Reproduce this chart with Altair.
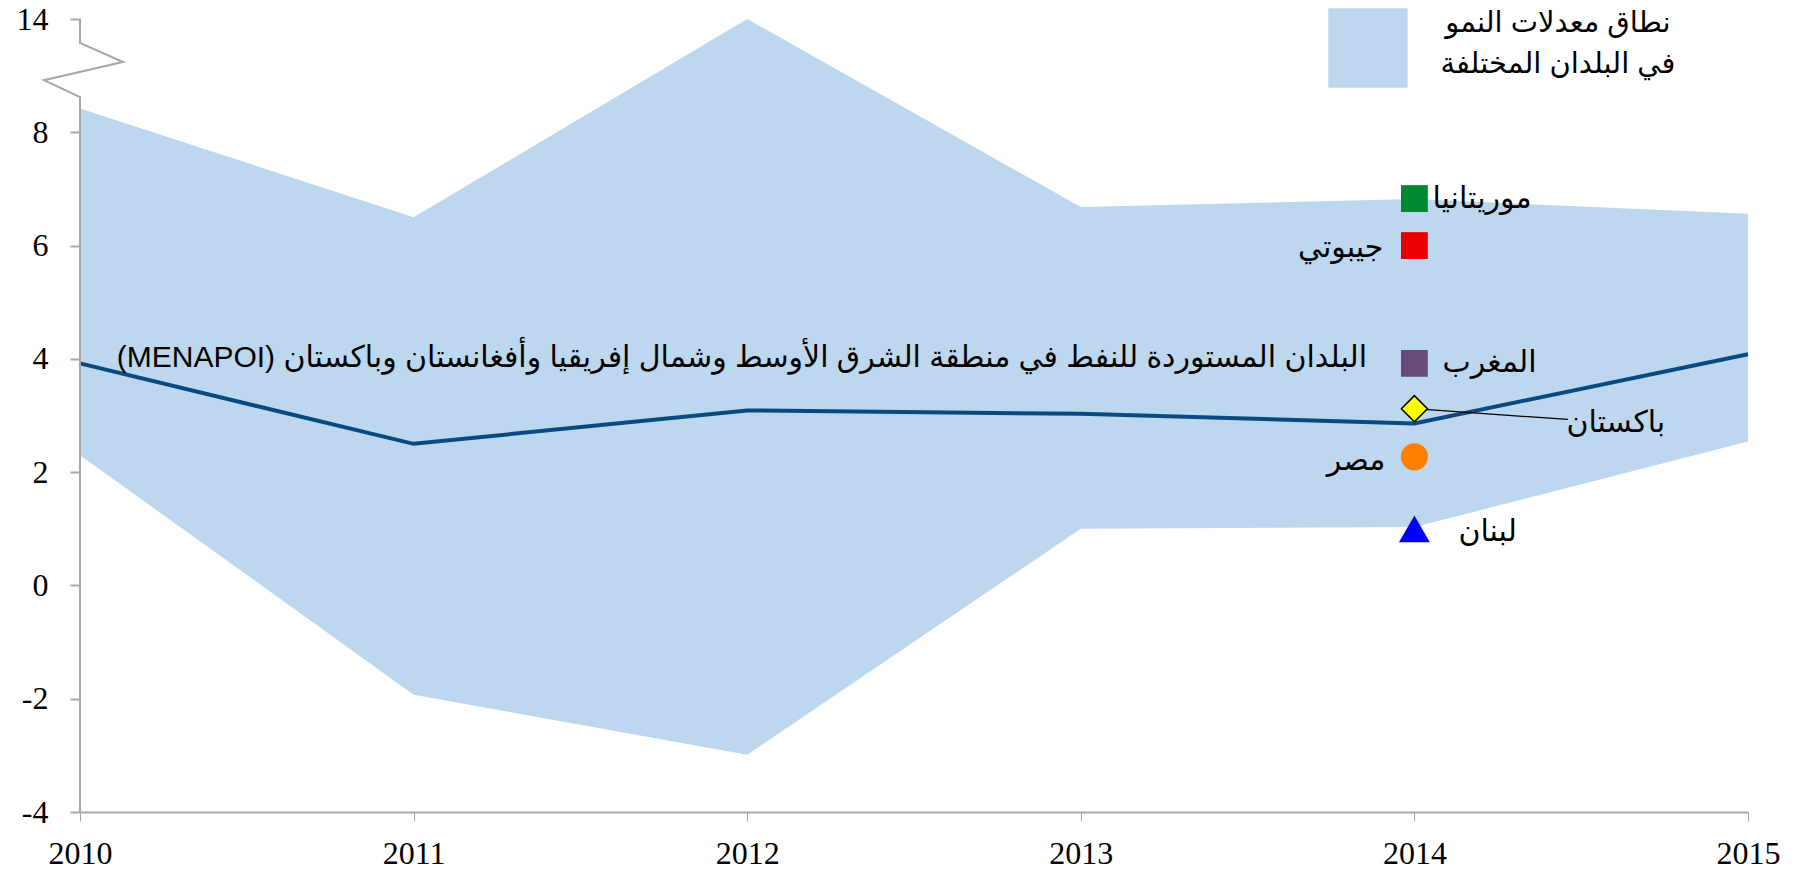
import altair as alt
import pandas as pd

# ---------------- data ----------------
years = [2010, 2011, 2012, 2013, 2014, 2015]
range_low = [2.30, -1.93, -2.99, 1.00, 1.03, 2.54]
range_high = [8.42, 6.50, 14.0, 6.68, 6.82, 6.56]
menapoi = [3.92, 2.50, 3.09, 3.03, 2.86, 4.08]

countries = ["موريتانيا", "جيبوتي", "المغرب", "باكستان", "مصر", "لبنان"]
country_values = [6.83, 6.00, 3.92, 3.12, 2.27, 1.00]
country_year = 2014

y_tick_labels = ["-4", "-2", "0", "2", "4", "6", "8", "14"]
legend_lines = ["نطاق معدلات النمو", "في البلدان المختلفة"]
series_label = "البلدان المستوردة للنفط في منطقة الشرق الأوسط وشمال إفريقيا وأفغانستان وباكستان"
series_abbr = "(MENAPOI)"

# ---------------- styles ----------------
BREAK_SHIFT = 4  # values above the axis break (14) are drawn 4 units lower
shape_of = {"موريتانيا": "square", "جيبوتي": "square", "المغرب": "square",
            "باكستان": "diamond", "مصر": "circle", "لبنان": "triangle-up"}
color_of = {"موريتانيا": "#00892F", "جيبوتي": "#E60000", "المغرب": "#684B7B",
            "باكستان": "#FFFF00", "مصر": "#FF8000", "لبنان": "#0000FF"}
size_of = {"square": 720, "diamond": 680, "circle": 740, "triangle-up": 950}
# label offsets (pixels) and alignment
label_style = {"موريتانيا": (18, 0, "left"), "جيبوتي": (-31, 2, "right"),
               "المغرب": (28, 0, "left"), "باكستان": (152, 14, "left"),
               "مصر": (-29, 4, "right"), "لبنان": (44, 3, "left")}

AR_FONT = "Liberation Sans, DejaVu Sans"
NUM_FONT = "Liberation Serif"
GRAY = "#A6A6A6"
LEGEND_TXT = "|".join(legend_lines)

band = pd.DataFrame({"year": years, "low": range_low, "high": range_high,
                     "series": [LEGEND_TXT] * len(years)})
line_df = pd.DataFrame({"year": years, "value": menapoi})
pts = pd.DataFrame({"country": countries, "value": country_values,
                    "year": [country_year] * len(countries)})
pts["shape"] = pts["country"].map(shape_of)
pts["fill"] = pts["country"].map(color_of)
pts["size"] = pts["shape"].map(size_of)
pts["stroke"] = ["black" if s == "diamond" else c for s, c in zip(pts["shape"], pts["fill"])]
pts["sw"] = [1.6 if s == "diamond" else 0 for s in pts["shape"]]

x_scale = alt.Scale(domain=[2010, 2015], nice=False, zero=False)
y_scale = alt.Scale(domain=[-4, 10], nice=False, zero=False)

tick_vals = [-4, -2, 0, 2, 4, 6, 8, 10]
label_map = "{" + ",".join(f"'{v}':'{t}'" for v, t in zip(tick_vals, y_tick_labels)) + "}"

x_axis = alt.Axis(values=years, format="d", labelFont=NUM_FONT, labelFontSize=32,
                  labelColor="black", domainColor=GRAY, domainWidth=2,
                  tickColor=GRAY, tickSize=9, tickWidth=1, labelPadding=17,
                  grid=False, title=None, labelFlush=False)
y_axis = alt.Axis(values=tick_vals, labelExpr=label_map + "[toString(datum.value)]",
                  labelFont=NUM_FONT, labelFontSize=32, labelColor="black",
                  domain=False, tickColor=GRAY, tickSize=10, tickWidth=2,
                  labelPadding=22, grid=False, title=None)

area = alt.Chart(band).transform_calculate(
    top=f"datum.high > 10 ? datum.high - {BREAK_SHIFT} : datum.high"
).mark_area(opacity=1).encode(
    x=alt.X("year:Q", scale=x_scale, axis=x_axis),
    y=alt.Y("top:Q", scale=y_scale, axis=y_axis),
    y2="low:Q",
    fill=alt.Fill("series:N", scale=alt.Scale(range=["#BDD7EE"]),
                  legend=alt.Legend(orient="none", legendX=1248, legendY=-11,
                                    title=None, symbolType="square", symbolSize=6300,
                                    symbolStrokeWidth=0, symbolOpacity=1,
                                    labelExpr="''", labelFontSize=1, labelOffset=0,
                                    padding=0)),
)

# legend label drawn as a two-line text next to the legend swatch
legend_text = alt.Chart(pd.DataFrame({"t": [LEGEND_TXT]})).mark_text(
    align="center", baseline="middle", font=AR_FONT, fontSize=29, lineHeight=41,
    lineBreak="|", color="black"
).encode(x=alt.X(datum=2014.43, scale=x_scale), y=alt.Y(datum=9.93, scale=y_scale),
         text="t:N")

line = alt.Chart(line_df).mark_line(color="#0B4A80", strokeWidth=4).encode(
    x=alt.X("year:Q", scale=x_scale), y=alt.Y("value:Q", scale=y_scale))

# y-axis domain with break symbol
axis_x = [2010, 2010, 2010.129, 2009.892, 2010, 2010]
axis_y = [10, 9.58, 9.24, 8.92, 8.62, -4]
axis_df = pd.DataFrame({"x": axis_x, "y": axis_y, "o": list(range(len(axis_x)))})
axis_line = alt.Chart(axis_df).mark_line(color=GRAY, strokeWidth=2).encode(
    x=alt.X("x:Q", scale=x_scale), y=alt.Y("y:Q", scale=y_scale), order="o:Q")

# leader line for Pakistan
pak = pts[pts["shape"] == "diamond"]
leader = alt.Chart(pak).mark_rule(color="black", strokeWidth=1.2).encode(
    x=alt.X("year:Q", scale=x_scale), y=alt.Y("value:Q", scale=y_scale),
    x2=alt.X2(datum=2014.46), y2=alt.Y2(datum=2.93))

points = alt.Chart(pts).mark_point(filled=True, opacity=1).encode(
    x=alt.X("year:Q", scale=x_scale), y=alt.Y("value:Q", scale=y_scale),
    shape=alt.Shape("shape:N", scale=None),
    fill=alt.Fill("fill:N", scale=None),
    stroke=alt.Stroke("stroke:N", scale=None),
    strokeWidth=alt.StrokeWidth("sw:Q", scale=None),
    size=alt.Size("size:Q", scale=None))

labels = []
for name in countries:
    dx, dy, al = label_style[name]
    labels.append(alt.Chart(pts[pts["country"] == name]).mark_text(
        align=al, baseline="middle", dx=dx, dy=dy, font=AR_FONT, fontSize=30,
        color="black").encode(
        x=alt.X("year:Q", scale=x_scale), y=alt.Y("value:Q", scale=y_scale),
        text="country:N"))

series_df = pd.DataFrame({"t": [series_abbr + " " + series_label]})
series_text = alt.Chart(series_df).mark_text(
    align="center", baseline="middle", font=AR_FONT, fontSize=30, color="black"
).encode(x=alt.X(datum=2011.984, scale=x_scale), y=alt.Y(datum=4.01, scale=y_scale),
         text="t:N")

chart = alt.layer(area, line, axis_line, series_text, leader, points, legend_text,
                  *labels).properties(
    width=1668, height=793,
    autosize=alt.AutoSizeParams(type="none"),
    padding={"left": 72, "top": 11, "right": 38, "bottom": 58},
    background="white",
).configure_view(stroke=None)

chart.save("out.html", embed_options={"renderer": "svg", "actions": False})
